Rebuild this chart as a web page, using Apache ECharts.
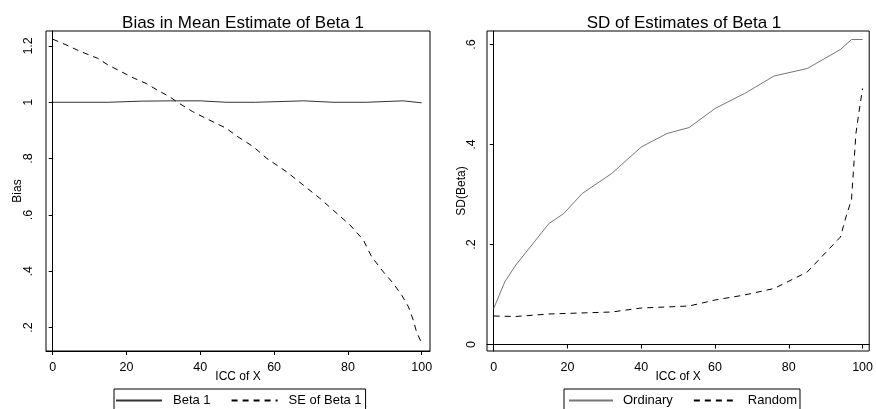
<!DOCTYPE html>
<html>
<head>
<meta charset="utf-8">
<script src="https://cdn.jsdelivr.net/npm/echarts@6/dist/echarts.min.js"></script>
<style>
  html, body { margin: 0; padding: 0; background: #fff; }
  #main { width: 876px; height: 409px; }
</style>
</head>
<body>
<div id="main"></div>
<script>
// left panel: Bias in Mean Estimate of Beta 1
var betaX = [0, 15, 24, 32, 40, 47, 55, 68, 76, 85, 95, 100]
var betaY = [1.0, 1.0, 1.004, 1.005, 1.005, 1.0, 1.0, 1.005, 1.0, 1.0, 1.005, 0.998]

var seX = [0, 3.6, 7.2, 12.2, 14.9, 18.5, 22.1, 25.3, 28, 31.6, 34.3, 37.9, 41.5, 47, 50, 54.4, 58, 63.4, 67.9, 72.4, 76, 80.6, 84.2, 86.4, 89.6, 92.3, 94.6, 96.4, 97.7, 98.6, 100]
var seY = [1.224, 1.204, 1.182, 1.156, 1.133, 1.109, 1.085, 1.067, 1.046, 1.020, 0.996, 0.967, 0.943, 0.908, 0.879, 0.842, 0.801, 0.753, 0.706, 0.659, 0.617, 0.564, 0.511, 0.452, 0.398, 0.357, 0.315, 0.274, 0.227, 0.185, 0.144]

// right panel: SD of Estimates of Beta 1
var sdX = [0, 3, 6, 15, 19, 24, 32, 40, 47, 53, 60, 68, 76, 85, 94, 97, 100]
var ordinaryY = [0.072, 0.125, 0.159, 0.242, 0.262, 0.302, 0.342, 0.395, 0.422, 0.434, 0.472, 0.502, 0.537, 0.552, 0.590, 0.610, 0.610]

var randX = [0, 6, 15, 32, 40, 53, 60, 68, 76, 85, 94, 95.5, 97, 98.2, 99.1, 100]
var randomY = [0.057, 0.056, 0.061, 0.065, 0.073, 0.077, 0.089, 0.099, 0.112, 0.145, 0.215, 0.255, 0.290, 0.422, 0.469, 0.512]

var xTicks = [0, 20, 40, 60, 80, 100]
var biasTicks = [0.2, 0.4, 0.6, 0.8, 1, 1.2]
var sdTicks = [0, 0.2, 0.4, 0.6]

function pairs(xs, ys) {
    return xs.map(function(x, i) { return [x, ys[i]] })
}

// stata style: 1 -> "1", 0.2 -> ".2"
function stataNum(v) {
    var s = String(Math.round(v * 100) / 100)
    return s.replace(/^0\./, '.')
}

var font = 'Liberation Sans, Arial, sans-serif'

function xAxisFor(idx, min, max) {
    return {
        type: 'value', gridIndex: idx, min: min, max: max,
        name: 'ICC of X', nameLocation: 'middle', nameGap: 20, nameMoveOverlap: false,
        nameTextStyle: { color: '#000', fontSize: 12, fontFamily: font },
        axisLine: { show: true, lineStyle: { color: '#000', width: 1 } },
        axisTick: { show: true, length: 4, customValues: xTicks, lineStyle: { color: '#000' } },
        axisLabel: { customValues: xTicks, color: '#000', fontSize: 12.5, fontFamily: font, margin: 10 },
        splitLine: { show: false }
    }
}

function yAxisFor(idx, min, max, ticks, name, gap, margin) {
    return {
        type: 'value', gridIndex: idx, min: min, max: max,
        name: name, nameLocation: 'middle', nameGap: gap, nameMoveOverlap: false,
        nameTextStyle: { color: '#000', fontSize: 12, fontFamily: font },
        axisLine: { show: true, lineStyle: { color: '#000', width: 1 } },
        axisTick: { show: true, length: 4, customValues: ticks, lineStyle: { color: '#000' } },
        axisLabel: {
            customValues: ticks, rotate: 90, color: '#000', fontSize: 12.5,
            fontFamily: font, margin: margin, formatter: stataNum
        },
        splitLine: { show: false }
    }
}

var myChart = echarts.init(document.getElementById('main'))

// legend line icons only, no symbol dot
var noDot = { opacity: 0, color: 'transparent', borderWidth: 0 }

var option = {
    backgroundColor: '#fff',
    animation: false,
    title: [
        { text: 'Bias in Mean Estimate of Beta 1', left: 238, top: 10, textAlign: 'center',
          textStyle: { fontSize: 17, fontWeight: 'normal', color: '#000', fontFamily: font } },
        { text: 'SD of Estimates of Beta 1', left: 679, top: 10, textAlign: 'center',
          textStyle: { fontSize: 17, fontWeight: 'normal', color: '#000', fontFamily: font } }
    ],
    grid: [
        { left: 46, top: 31, width: 384, height: 320, show: true, borderColor: '#000', borderWidth: 1 },
        { left: 487, top: 31, width: 384, height: 320, show: true, borderColor: '#000', borderWidth: 1 }
    ],
    xAxis: [
        xAxisFor(0, -1.82, 102.25),
        xAxisFor(1, -1.81, 101.8)
    ],
    yAxis: [
        yAxisFor(0, 0.117, 1.253, biasTicks, 'Bias', 22, 11),
        yAxisFor(1, -0.013, 0.627, sdTicks, 'SD(Beta)', 19, 9)
    ],
    legend: [
        {
            data: ['Beta 1', 'SE of Beta 1'], left: 114, top: 389,
            borderColor: '#000', borderWidth: 1, borderRadius: 0, padding: [5, 4, 8, 1],
            itemWidth: 46, itemHeight: 10, itemGap: 20, itemStyle: noDot,
            textStyle: { color: '#000', fontSize: 13, fontFamily: font, padding: [0, 0, 0, 6] }
        },
        {
            data: ['Ordinary', 'Random'], left: 564, top: 389,
            borderColor: '#000', borderWidth: 1, borderRadius: 0, padding: [5, 3, 8, 4],
            itemWidth: 44, itemHeight: 10, itemGap: 20, itemStyle: noDot,
            textStyle: { color: '#000', fontSize: 13, fontFamily: font, padding: [0, 0, 0, 5] }
        }
    ],
    series: [
        {
            name: 'Beta 1', type: 'line', xAxisIndex: 0, yAxisIndex: 0,
            data: pairs(betaX, betaY), showSymbol: false, symbol: 'none', smooth: false,
            lineStyle: { color: '#333', width: 1 }, itemStyle: { color: '#333' }
        },
        {
            name: 'SE of Beta 1', type: 'line', xAxisIndex: 0, yAxisIndex: 0,
            data: pairs(seX, seY), showSymbol: false, symbol: 'none',
            lineStyle: { color: '#000', width: 1, type: [6, 5] }, itemStyle: { color: '#000' }
        },
        {
            name: 'Ordinary', type: 'line', xAxisIndex: 1, yAxisIndex: 1,
            data: pairs(sdX, ordinaryY), showSymbol: false, symbol: 'none',
            lineStyle: { color: '#777', width: 1 }, itemStyle: { color: '#777' }
        },
        {
            name: 'Random', type: 'line', xAxisIndex: 1, yAxisIndex: 1,
            data: pairs(randX, randomY), showSymbol: false, symbol: 'none',
            lineStyle: { color: '#000', width: 1, type: [6, 5] }, itemStyle: { color: '#000' }
        }
    ]
}

myChart.setOption(option)
</script>
</body>
</html>
